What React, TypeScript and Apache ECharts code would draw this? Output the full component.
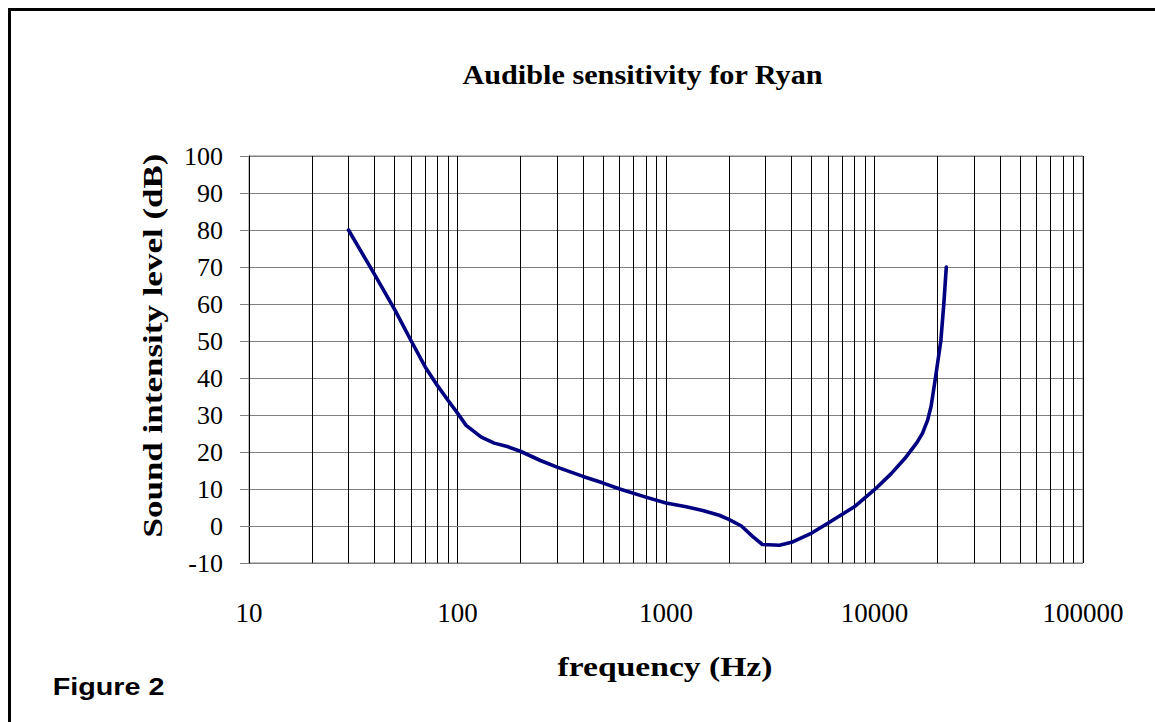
import React, { useEffect, useRef } from "react";
import * as echarts from "echarts";

// Frequencies (Hz) and thresholds (dB)
const freqs = [30, 40, 50, 60, 70, 80, 90, 100, 110, 130, 150, 175, 200, 250, 300, 400, 500, 600, 800, 1000, 1250, 1500, 1800, 2000, 2300, 2600, 2900, 3500, 4000, 5000, 6000, 8000, 10000, 12000, 14000, 16000, 17000, 18000, 18700, 19600, 20800, 21500, 22100];
const levels = [80, 68, 58.5, 50, 43, 38, 34, 30.5, 27.2, 24, 22.4, 21.4, 20.2, 17.7, 15.9, 13.4, 11.6, 10, 7.8, 6.2, 5.2, 4.2, 2.9, 1.8, 0, -2.8, -5, -5.2, -4.4, -1.9, 0.8, 5.2, 9.8, 14.1, 18.3, 22.6, 25.1, 28.7, 32.5, 40, 50, 60, 70];

const xDecades = [10, 100, 1000, 10000, 100000];
const minorMultipliers = [2, 3, 4, 5, 6, 7, 8, 9];
const minorGridFreqs = xDecades.slice(0, -1).flatMap((d) => minorMultipliers.map((m) => d * m));

const yMin = -10;
const yMax = 100;
const yStep = 10;

const titleText = "Audible sensitivity for Ryan";
const xTitle = "frequency (Hz)";
const yTitle = "Sound intensity level (dB)";
const figureText = "Figure 2";

export default function App() {
  const ref = useRef<HTMLDivElement>(null);
  useEffect(() => {
    if (!ref.current) return;
    const chart = echarts.init(ref.current, undefined, { renderer: "svg" });
    const serif = "Liberation Serif, Times New Roman, serif";
    chart.setOption({
      animation: false,
      backgroundColor: "#fff",
      grid: {
        left: 249,
        top: 156,
        width: 834,
        height: 407,
        show: true,
        borderColor: "#808080",
        borderWidth: 1,
        containLabel: false,
      },
      xAxis: {
        type: "log",
        logBase: 10,
        min: xDecades[0],
        max: xDecades[xDecades.length - 1],
        axisLine: { show: true, lineStyle: { color: "#808080", width: 1 } },
        axisTick: { show: false },
        axisLabel: {
          fontFamily: serif,
          fontSize: 27,
          color: "#000",
          margin: 36,
          formatter: (v: number) => String(Math.round(v)),
        },
        splitLine: { show: true, lineStyle: { color: "#000", width: 1 } },
      },
      yAxis: {
        type: "value",
        min: yMin,
        max: yMax,
        interval: yStep,
        axisLine: { show: true, lineStyle: { color: "#000", width: 1 } },
        axisTick: { show: true, inside: false, length: 9, lineStyle: { color: "#808080" } },
        axisLabel: { fontFamily: serif, fontSize: 26, color: "#000", margin: 26 },
        splitLine: { show: true, lineStyle: { color: "#808080", width: 1 } },
      },
      series: [
        {
          type: "line",
          data: [],
          z: 1,
          silent: true,
          markLine: {
            silent: true,
            symbol: ["none", "none"],
            label: { show: false },
            lineStyle: { color: "#000", width: 1, type: "solid" },
            emphasis: { disabled: true },
            data: minorGridFreqs.map((f) => ({ xAxis: f })),
          },
        },
        {
          type: "line",
          z: 5,
          data: freqs.map((f, i) => [f, levels[i]]),
          showSymbol: false,
          symbol: "none",
          lineStyle: { color: "#000080", width: 3.6, join: "round", cap: "round" },
          itemStyle: { color: "#000080" },
        },
      ],
      graphic: [
        {
          type: "rect",
          shape: { x: 9.5, y: 9.5, width: 1300, height: 900 },
          style: { fill: "none", stroke: "#000", lineWidth: 3 },
          silent: true,
        },
        {
          type: "text",
          x: 642.5,
          y: 74,
          scaleX: 1.08,
          style: { text: titleText, font: `bold 28px ${serif}`, fill: "#000", align: "center", verticalAlign: "middle" },
        },
        {
          type: "text",
          x: 665,
          y: 666,
          scaleX: 1.2,
          style: { text: xTitle, font: `bold 28px ${serif}`, fill: "#000", align: "center", verticalAlign: "middle" },
        },
        {
          type: "text",
          x: 153,
          y: 345.5,
          rotation: Math.PI / 2,
          scaleX: 1.25,
          style: { text: yTitle, font: `bold 28px ${serif}`, fill: "#000", align: "center", verticalAlign: "middle" },
        },
        {
          type: "text",
          x: 52.7,
          y: 687,
          scaleX: 1.25,
          style: { text: figureText, font: "bold 23px Liberation Sans, Arial, sans-serif", fill: "#000", align: "left", verticalAlign: "middle" },
        },
      ],
    });
    return () => chart.dispose();
  }, []);
  return <div ref={ref} style={{ position: "absolute", left: 0, top: 0, width: 1155, height: 722 }} />;
}
